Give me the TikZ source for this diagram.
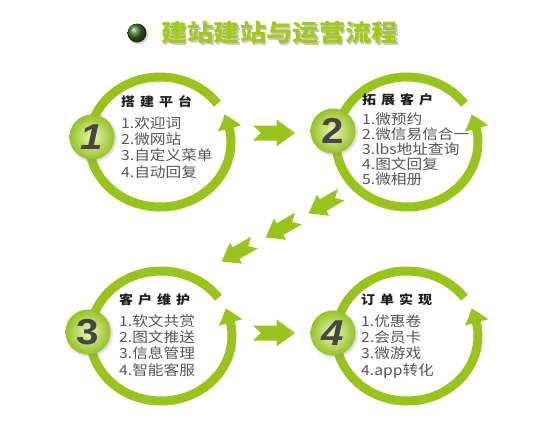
\documentclass[tikz,border=0pt]{standalone}
\usepackage{fontspec}
\setmainfont{Noto Sans CJK SC}[FakeStretch=1.12]
\newfontfamily\numfont{Liberation Sans}[FakeStretch=1.12]
\newfontfamily\headfont{Noto Sans CJK SC}[FakeStretch=1.12,LetterSpace=40]
\usepackage{tikz}
\usetikzlibrary{arrows.meta,bending,positioning,shadows}
\definecolor{leafgreen}{RGB}{153,196,30}
\definecolor{badgelight}{RGB}{236,246,180}
\definecolor{badgedark}{RGB}{150,194,40}
\definecolor{ballgreen}{RGB}{55,105,30}
\definecolor{listgray}{RGB}{85,85,85}
\definecolor{headblack}{RGB}{30,30,30}
\definecolor{numgray}{RGB}{70,70,70}
\tikzstyle{ring} = [draw=leafgreen, line width=9pt, -{Triangle[width=23pt,length=15pt,bend]}]
\tikzstyle{badge} = [circle, minimum size=45pt, inner sep=0pt, shading=radial, inner color=badgelight, outer color=badgedark, circular drop shadow={shadow xshift=1pt, shadow yshift=-1pt, opacity=0.3}, text=numgray, font=\numfont\bfseries\fontsize{36}{36}\selectfont]
\tikzstyle{stagehead} = [anchor=west, inner sep=0pt, text=headblack, font=\headfont\bfseries\fontsize{12.5}{14}\selectfont]
\tikzstyle{stagelist} = [align=left, inner sep=0pt, text=listgray, font=\fontsize{14}{16.3}\selectfont]
\tikzstyle{titleball} = [circle, minimum size=19pt, inner sep=0pt, ball color=ballgreen, circular drop shadow={shadow xshift=1pt, shadow yshift=-1pt, opacity=0.35}]
\tikzstyle{titletext} = [anchor=west, inner sep=0pt, font=\bfseries\fontsize{23.5}{26}\selectfont]
\tikzset{fatarrow/.pic={
    \fill[leafgreen] (-21,-7.5) -- (2.5,-7.5) -- (2.5,-13.5) -- (21,0) -- (2.5,13.5) -- (2.5,7.5) -- (-21,7.5) -- (-13,0) -- cycle;
}}

\begin{document}
\begin{tikzpicture}[x=1pt, y=-1pt]
    \useasboundingbox (0,0) rectangle (550,421);
    \fill[white] (0,0) rectangle (550,421);

    % heading
    \node[titleball] (ball) at (137,33) {};
    \node[titletext, text=black!45, opacity=0.5] (titleshade) at (162.5,34.5) {建站建站与运营流程};
    \node[titletext, text=leafgreen!90!yellow] (title) at (161,33) {建站建站与运营流程};

    % the four rings
    \coordinate (c1) at (160,142);
    \coordinate (c2) at (407,142);
    \coordinate (c3) at (161,336);
    \coordinate (c4) at (407,336);
    \foreach \c in {c1,c2,c3,c4}
        \draw[ring] (\c) ++(-36:71 and 65) arc[start angle=-36, end angle=-385, x radius=71, y radius=65];

    \node[badge] (b1) at (92,137) {\itshape 1};
    \node[badge] (b2) at (333,131) {2};
    \node[badge] (b3) at (88,332) {3};
    \node[badge] (b4) at (333,333) {\itshape 4};

    % texts
    \node[stagehead] (t1) at (121,102) {搭建平台};
    \node[stagelist, below=8pt of t1.south west, anchor=north west] (l1) {1.欢迎词\\2.微网站\\3.自定义菜单\\4.自动回复};
    \node[stagehead] (t2) at (362,100) {拓展客户};
    \node[stagelist, below=6pt of t2.south west, anchor=north west, font=\fontsize{14}{15}\selectfont] (l2) {1.微预约\\2.微信易信合一\\3.lbs地址查询\\4.图文回复\\5.微相册};
    \node[stagehead] (t3) at (119,300) {客户维护};
    \node[stagelist, below=8pt of t3.south west, anchor=north west] (l3) {1.软文共赏\\2.图文推送\\3.信息管理\\4.智能客服};
    \node[stagehead] (t4) at (361,300) {订单实现};
    \node[stagelist, below=8pt of t4.south west, anchor=north west] (l4) {1.优惠卷\\2.会员卡\\3.微游戏\\4.app转化};

    % arrows between the rings
    \pic at (274,133) {fatarrow};
    \pic at (274,333) {fatarrow};
    \foreach \p in {(325,204),(282,228),(238,252)}
        \pic[rotate=210, scale=0.9] at \p {fatarrow};
\end{tikzpicture}
\end{document}
